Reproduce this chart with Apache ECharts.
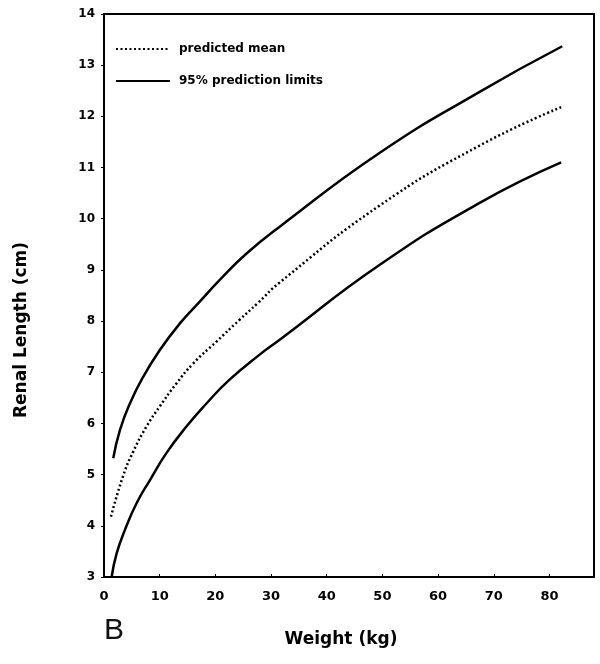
<!DOCTYPE html>
<html>
<head>
<meta charset="utf-8">
<script src="https://cdn.jsdelivr.net/npm/echarts@6/dist/echarts.min.js"></script>
<style>
html,body{margin:0;padding:0;background:#fff;}
#c{width:600px;height:664px;}
</style>
</head>
<body>
<div id="c"></div>
<script>
const upperWeights = [1.66, 2.86, 4.65, 7.03, 10.0, 13.6, 17.2, 20.75, 25.6, 31.5, 49.4, 67.3, 82.3];
const upperLimit   = [5.32, 5.87, 6.39, 6.91, 7.43, 7.95, 8.38, 8.80, 9.32, 9.84, 11.28, 12.47, 13.37];
const meanWeights  = [1.25, 3.45, 5.25, 7.63, 10.0, 13.0, 16.0, 20.2, 24.3, 27.6, 31.5, 49.4, 67.3, 82.1];
const predictedMean= [4.18, 4.98, 5.45, 5.94, 6.33, 6.78, 7.17, 7.6, 8.02, 8.35, 8.75, 10.25, 11.42, 12.18];
const lowerWeights = [1.37, 2.27, 3.76, 5.85, 8.23, 11.2, 14.8, 18.4, 22.5, 27.9, 31.5, 49.4, 67.3, 82.1];
const lowerLimit   = [3.0, 3.46, 3.92, 4.44, 4.89, 5.42, 5.94, 6.39, 6.85, 7.34, 7.63, 9.09, 10.3, 11.1];
const xTicks = [0, 10, 20, 30, 40, 50, 60, 70, 80];
const yTicks = [3, 4, 5, 6, 7, 8, 9, 10, 11, 12, 13, 14];

const pair = (xs, ys) => xs.map((w, i) => [w, ys[i]]);
const FONT = 'DejaVu Sans';

const chart = echarts.init(document.getElementById('c'), null, {renderer: 'canvas'});
chart.setOption({
  backgroundColor: '#ffffff',
  animation: false,
  grid: {left: 104, right: 6, top: 14, bottom: 87, show: true, borderColor: '#000', borderWidth: 2, containLabel: false},
  legend: {
    orient: 'vertical', left: 110, top: 38, itemGap: 20, itemWidth: 54, itemHeight: 10,
    data: ['predicted mean', '95% prediction limits'],
    itemStyle: {opacity: 0},
    textStyle: {fontFamily: FONT, fontWeight: 'bold', fontSize: 12, color: '#000', padding: [0, 0, 0, 4]}
  },
  xAxis: {
    type: 'value', min: 0, max: 88, interval: 10,
    axisLine: {show: true, lineStyle: {color: '#000', width: 2}},
    axisTick: {show: true, inside: true, length: 3, lineStyle: {color: '#000'}},
    splitLine: {show: false},
    axisLabel: {
      margin: 13, color: '#000', fontFamily: FONT, fontWeight: 'bold', fontSize: 13,
      showMaxLabel: false,
      formatter: (v) => xTicks.includes(v) ? String(v) : ''
    },
    name: 'Weight (kg)', nameLocation: 'middle', nameGap: 54,
    nameTextStyle: {fontFamily: FONT, fontWeight: 'bold', fontSize: 17, color: '#000', padding: [0, 16, 0, 0]}
  },
  yAxis: {
    type: 'value', min: 3, max: 14, interval: 1,
    axisLine: {show: true, lineStyle: {color: '#000', width: 2}},
    axisTick: {show: true, length: 3, lineStyle: {color: '#000'}},
    splitLine: {show: false},
    axisLabel: {
      margin: 9, color: '#000', fontFamily: FONT, fontWeight: 'bold', fontSize: 12,
      formatter: (v) => yTicks.includes(v) ? String(v) : ''
    }
  },
  graphic: [
    {type: 'text', x: 22, y: 330, rotation: Math.PI / 2,
     style: {text: 'Renal Length (cm)', fontFamily: FONT, fontWeight: 'bold', fontSize: 17, fill: '#000',
             align: 'center', verticalAlign: 'middle'}},
    {type: 'text', left: 104, top: 616, style: {text: 'B', fontFamily: 'Liberation Sans', fontSize: 30, fill: '#111'}}
  ],
  series: [
    {name: 'predicted mean', type: 'line', smooth: 0.5, symbol: 'none',
     data: pair(meanWeights, predictedMean),
     itemStyle: {color: '#000'},
     lineStyle: {color: '#000', width: 2.5, type: [2, 2.5]}},
    {name: '95% prediction limits', type: 'line', smooth: 0.5, symbol: 'none',
     data: pair(upperWeights, upperLimit),
     itemStyle: {color: '#000'},
     lineStyle: {color: '#000', width: 2.5}},
    {name: '95% prediction limits', type: 'line', smooth: 0.5, symbol: 'none',
     data: pair(lowerWeights, lowerLimit),
     itemStyle: {color: '#000'},
     lineStyle: {color: '#000', width: 2.5}}
  ]
});
</script>
</body>
</html>
